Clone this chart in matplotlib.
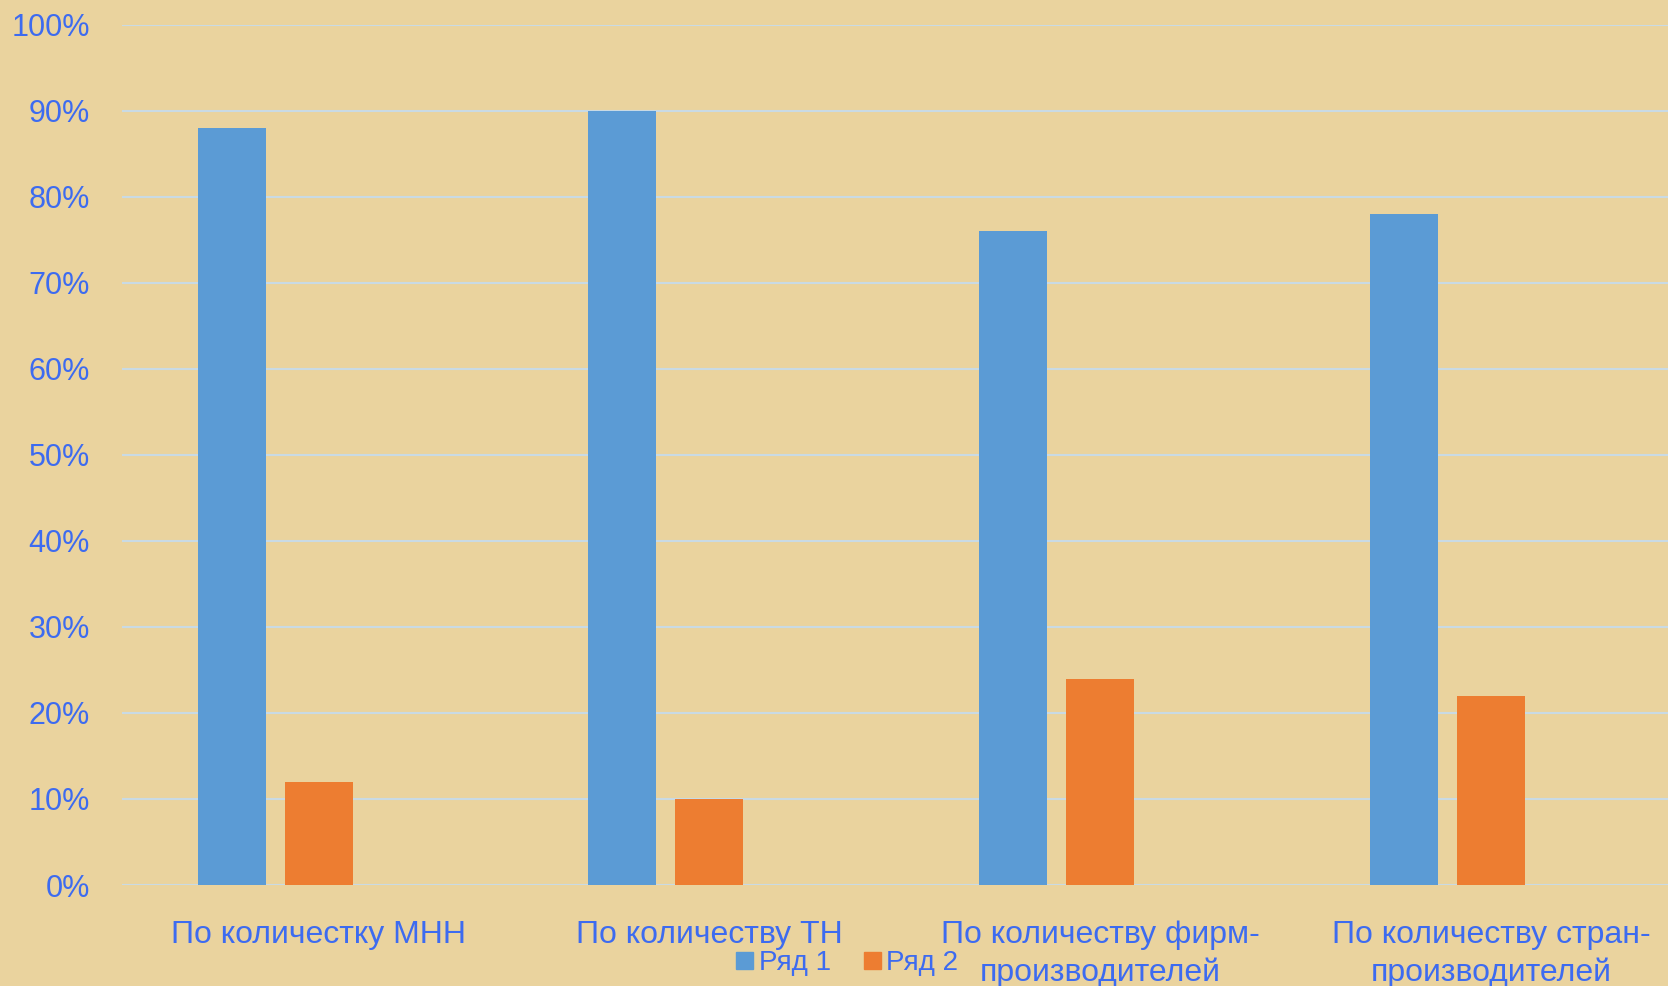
import matplotlib
matplotlib.use('Agg')
import matplotlib.pyplot as plt
from matplotlib.patches import Patch
import numpy as np

categories = ['По количестку МНН', 'По количеству ТН',
              'По количеству фирм-\nпроизводителей',
              'По количеству стран-\nпроизводителей']
row1 = [0.88, 0.90, 0.76, 0.78]
row2 = [0.12, 0.10, 0.24, 0.22]
series_names = ['Ряд 1', 'Ряд 2']
yticks = [0, 0.1, 0.2, 0.3, 0.4, 0.5, 0.6, 0.7, 0.8, 0.9, 1.0]
ytick_labels = ['0%', '10%', '20%', '30%', '40%', '50%', '60%', '70%', '80%', '90%', '100%']

blue = '#5B9BD5'
orange = '#ED7D31'
text_blue = '#3D6BF0'
bg = '#EAD39E'
grid_col = '#C9DAE4'

plt.rcParams['font.family'] = ['Liberation Sans', 'DejaVu Sans']

fig = plt.figure(figsize=(16.68, 9.86), dpi=100)
fig.patch.set_facecolor(bg)
ax = fig.add_axes([0.073, 0.1024, 0.927, 0.8726])
ax.set_facecolor(bg)

x = np.arange(len(categories))
w = 0.174
step = 0.2227
ax.bar(x - step, row1, w, color=blue, zorder=3)
ax.bar(x, row2, w, color=orange, zorder=3)

ax.set_xlim(-0.504, 3.453)
ax.set_ylim(0, 1.0)
ax.set_yticks(yticks)
ax.set_yticklabels(ytick_labels)
ax.set_xticks(x)
ax.set_xticklabels(categories, linespacing=1.3)
ax.tick_params(axis='y', length=0, pad=23, labelsize=22, labelcolor=text_blue)
ax.tick_params(axis='x', length=0, pad=25.5, labelsize=23, labelcolor=text_blue)
ax.grid(axis='y', color=grid_col, linewidth=1.5, zorder=0)
ax.set_axisbelow(True)
for s in ax.spines.values():
    s.set_visible(False)

handles = [Patch(color=blue), Patch(color=orange)]
fig.legend(handles, series_names, loc='center', bbox_to_anchor=(0.508, 0.023),
           ncol=2, frameon=False, fontsize=20, labelcolor=text_blue,
           handlelength=0.6, handleheight=0.6, handletextpad=0.2,
           columnspacing=1.2, borderaxespad=0)

fig.savefig('out.png', dpi=100, facecolor=bg)
